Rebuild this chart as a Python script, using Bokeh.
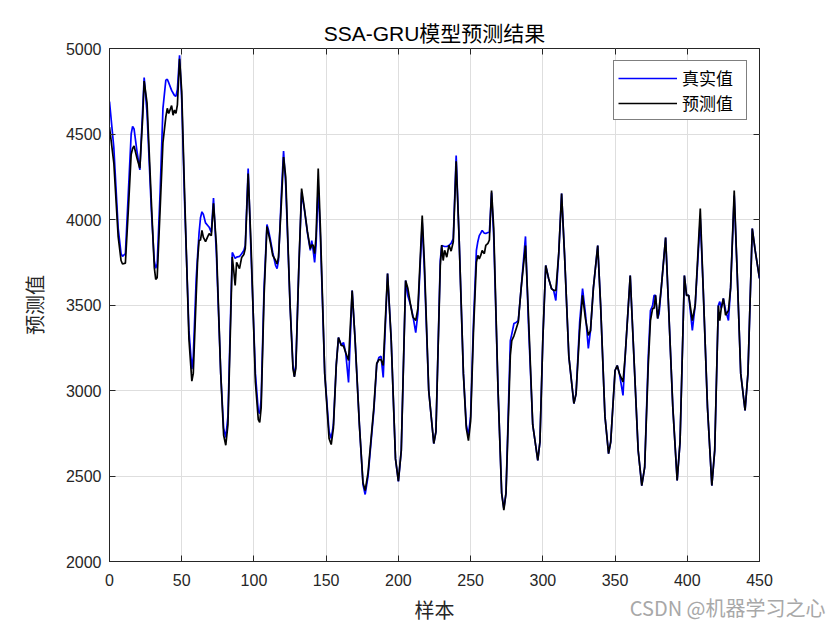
from bokeh.plotting import figure
from bokeh.models import Range1d, LinearAxis, FixedTicker, Title, Legend, LegendItem, CustomJSTickFormatter
from bokeh.embed import file_html
from bokeh.resources import INLINE

# sample index (x)
sample_idx = [
    0, 3, 6, 8, 9, 11, 13, 15, 16, 17, 19, 21, 23, 24, 26, 29, 31, 32, 33, 35,
    37, 39, 40, 41, 43, 44, 45, 46, 47, 48.5, 50, 52, 55, 57, 58, 60, 61, 62, 63, 64,
    65, 66.5, 68, 69, 70.5, 72, 74, 77, 79, 80.5, 82, 84, 85, 86, 87, 88, 90, 91.5, 93, 94,
    96, 98, 101, 103, 104, 105, 107, 109, 110, 111.5, 113, 115, 116, 117, 119, 120.5, 122, 125, 127, 128,
    129, 131, 133, 135, 137, 139, 140, 141, 142, 143, 144.5, 146, 149, 152, 153.5, 155, 157, 158.5, 160.5, 162,
    163.5, 165.5, 168, 170, 173, 175.5, 177, 179, 183, 185, 186.5, 188, 189.5, 192.5, 195, 198, 200, 202, 205, 206.5,
    208.5, 210, 212, 213.5, 216.5, 218, 221, 224.5, 226, 229, 230, 231, 232, 233.5, 235, 236.5, 238, 240, 242, 245,
    247, 248.5, 250, 252, 254, 255, 256, 257, 258, 259.5, 260.5, 262, 263, 264.5, 266, 269, 271.5, 273, 274.5, 277.5,
    278.5, 280, 281.5, 283, 285, 288, 290, 293, 296.5, 298, 300, 302, 304, 306, 307.5, 309, 311, 313, 315, 318,
    321.5, 323, 325.5, 327.5, 329.5, 331.5, 333, 335, 338, 340, 343, 345.5, 347, 350, 351.5, 353, 355.5, 357, 360.5, 362.5,
    366, 368.5, 370.5, 373, 374.5, 376, 377, 378, 379.5, 380.5, 382, 385, 387, 390, 393, 395, 398, 399.5, 401, 403.5,
    405.5, 409, 411, 414, 417, 419, 421.5, 422.5, 423.5, 425, 426.5, 428.5, 430, 432.5, 434.5, 437, 440, 442, 445, 447,
    450,
]

# 真实值 (true values)
true_value = [
    4690, 4420, 3950, 3800, 3785, 3800, 4150, 4500, 4545, 4530, 4400, 4290, 4650, 4830, 4620, 4050, 3760, 3715, 3740, 4150,
    4650, 4815, 4820, 4800, 4755, 4740, 4725, 4720, 4760, 4960, 4700, 4100, 3350, 3125, 3200, 3650, 3790, 3920, 4010, 4045,
    4030, 3980, 3965, 3955, 3925, 4125, 3800, 3100, 2780, 2725, 2850, 3500, 3807, 3790, 3772, 3780, 3784, 3800, 3819, 3848,
    4298, 3800, 3100, 2880, 2865, 2950, 3600, 3971, 3940, 3877, 3807, 3731, 3713, 3760, 4150, 4400, 4200, 3500, 3150, 3082,
    3150, 3700, 4158, 4053, 3924, 3819, 3877, 3820, 3749, 3850, 4199, 3900, 3100, 2760, 2719, 2800, 3150, 3310, 3263, 3281,
    3222, 3047, 3585, 3300, 2800, 2450, 2392, 2500, 2883, 3150, 3193, 3200, 3076, 3684, 3300, 2600, 2468, 2650, 3643, 3556,
    3497, 3439, 3339, 3450, 3982, 3700, 3000, 2690, 2760, 3760, 3848, 3845, 3842, 3842, 3848, 3860, 3889, 4374, 3900, 3100,
    2800, 2737, 2850, 3400, 3819, 3870, 3906, 3920, 3936, 3920, 3918, 3924, 3924, 4158, 3900, 3000, 2400, 2310, 2400, 3292,
    3330, 3392, 3398, 3409, 3600, 3901, 3400, 2800, 2591, 2700, 3300, 3731, 3655, 3596, 3585, 3526, 3800, 4152, 3800, 3200,
    2924, 2980, 3400, 3596, 3450, 3246, 3350, 3600, 3848, 3500, 2850, 2631, 2700, 3117, 3146, 3100, 2971, 3200, 3672, 3300,
    2650, 2444, 2550, 3200, 3468, 3497, 3556, 3556, 3421, 3450, 3600, 3895, 3500, 2900, 2474, 2700, 3672, 3556, 3556, 3351,
    3500, 4006, 3600, 2900, 2444, 2650, 3497, 3520, 3480, 3538, 3470, 3409, 3600, 4140, 3700, 3100, 2883, 3100, 3947, 3819,
    3655,
]

# 预测值 (predicted values)
predicted_value = [
    4540, 4330, 3900, 3760, 3740, 3745, 4050, 4380, 4415, 4430, 4360, 4300, 4600, 4810, 4680, 4100, 3720, 3650, 3660, 4050,
    4450, 4600, 4650, 4620, 4666, 4610, 4640, 4620, 4670, 4940, 4750, 4150, 3300, 3055, 3100, 3550, 3760, 3877, 3880, 3936,
    3895, 3871, 3900, 3918, 3906, 4095, 3850, 3100, 2740, 2680, 2800, 3450, 3780, 3702, 3614, 3749, 3713, 3778, 3795, 3830,
    4269, 3850, 3050, 2830, 2813, 2900, 3550, 3959, 3920, 3860, 3790, 3760, 3740, 3780, 4100, 4365, 4250, 3500, 3130, 3080,
    3130, 3700, 4181, 4060, 3930, 3830, 3850, 3850, 3800, 3900, 4298, 3950, 3100, 2720, 2684, 2780, 3150, 3310, 3263, 3260,
    3222, 3175, 3585, 3300, 2800, 2460, 2415, 2520, 2900, 3158, 3180, 3180, 3146, 3684, 3300, 2600, 2470, 2650, 3643, 3600,
    3497, 3430, 3409, 3480, 4023, 3750, 3000, 2690, 2760, 3730, 3850, 3760, 3820, 3780, 3850, 3815, 3870, 4340, 3900, 3100,
    2780, 2707, 2820, 3350, 3749, 3790, 3770, 3790, 3819, 3800, 3848, 3860, 3880, 4170, 3950, 3000, 2400, 2300, 2400, 3205,
    3292, 3320, 3360, 3400, 3600, 3848, 3450, 2800, 2591, 2700, 3300, 3731, 3655, 3596, 3585, 3585, 3800, 4152, 3800, 3200,
    2924, 2980, 3350, 3556, 3420, 3322, 3350, 3600, 3848, 3500, 2850, 2631, 2700, 3117, 3146, 3099, 3050, 3200, 3672, 3300,
    2650, 2444, 2550, 3150, 3409, 3480, 3480, 3556, 3421, 3480, 3600, 3895, 3500, 2900, 2474, 2700, 3672, 3556, 3556, 3409,
    3500, 4064, 3600, 2900, 2444, 2650, 3497, 3409, 3480, 3538, 3440, 3468, 3600, 4170, 3700, 3100, 2883, 3100, 3947, 3819,
    3655,
]

x_ticks = [0, 50, 100, 150, 200, 250, 300, 350, 400, 450]
y_ticks = [2000, 2500, 3000, 3500, 4000, 4500, 5000]

title_text = "SSA-GRU模型预测结果"
x_label = "样本"
y_label = "预测值"
series_names = ["真实值", "预测值"]
watermark = "CSDN @机器学习之心"

AX = "#262626"
NUM_FONT = "Liberation Sans"
CJK_FONT = "Liberation Sans, Noto Sans CJK SC"

p = figure(width=840, height=630,
           x_range=Range1d(0, 450), y_range=Range1d(2000, 5000),
           output_backend="svg", toolbar_location=None,
           min_border_left=109, min_border_right=81,
           min_border_top=48, min_border_bottom=69)

p.title.text = title_text
p.title.align = "center"
p.title.text_font = CJK_FONT
p.title.text_font_size = "21px"
p.title.text_font_style = "normal"
p.title.text_color = "#000000"
p.title.standoff = 8

p.outline_line_color = AX
p.outline_line_width = 1
p.background_fill_color = "white"
p.border_fill_color = "white"

for ax in (p.xaxis[0], p.yaxis[0]):
    ax.axis_line_color = AX
    ax.major_tick_in = 6
    ax.major_tick_out = 0
    ax.major_tick_line_color = AX
    ax.minor_tick_line_color = None
    ax.major_label_text_font = NUM_FONT
    ax.major_label_text_font_size = "16px"
    ax.major_label_text_color = AX
    ax.axis_label_text_font = CJK_FONT
    ax.axis_label_text_font_size = "20px"
    ax.axis_label_text_font_style = "normal"
    ax.axis_label_text_color = AX

p.xaxis[0].ticker = FixedTicker(ticks=x_ticks)
p.yaxis[0].ticker = FixedTicker(ticks=y_ticks)
p.xaxis[0].axis_label = x_label
p.yaxis[0].axis_label = y_label
p.xaxis[0].major_label_standoff = 12
p.xaxis[0].axis_label_standoff = 11
p.yaxis[0].major_label_standoff = 8
p.yaxis[0].axis_label_standoff = 16

blank = CustomJSTickFormatter(code="return ''")
top_ax = LinearAxis(ticker=FixedTicker(ticks=x_ticks), formatter=blank,
                    axis_line_color=None, major_tick_in=6, major_tick_out=0,
                    major_tick_line_color=AX, minor_tick_line_color=None,
                    major_label_standoff=0)
right_ax = LinearAxis(ticker=FixedTicker(ticks=y_ticks), formatter=blank,
                      axis_line_color=None, major_tick_in=6, major_tick_out=0,
                      major_tick_line_color=AX, minor_tick_line_color=None,
                      major_label_standoff=0)
p.add_layout(top_ax, "above")
p.add_layout(right_ax, "right")

p.grid.grid_line_color = "#dedede"
p.grid.grid_line_width = 1
p.xgrid.ticker = FixedTicker(ticks=x_ticks)
p.ygrid.ticker = FixedTicker(ticks=y_ticks)

r_true = p.line(sample_idx, true_value, line_color="#0000ff", line_width=1.7)
r_pred = p.line(sample_idx, predicted_value, line_color="#000000", line_width=1.7)

legend = Legend(items=[LegendItem(label=series_names[0], renderers=[r_true]),
                       LegendItem(label=series_names[1], renderers=[r_pred])],
                location="top_right", margin=12, padding=4, spacing=0,
                glyph_width=59, glyph_height=20, label_height=20,
                label_width=60, label_standoff=5,
                label_text_font="Noto Sans CJK SC", label_text_font_size="17px",
                label_text_color="#000000",
                border_line_color="#000000", border_line_width=1,
                background_fill_color="white", background_fill_alpha=1)
p.add_layout(legend)

# watermark: a side-panel title pulled up into the x-label row, right of the frame
wm = Title(text=watermark, align="right", vertical_align="top",
           offset=-66, standoff=-64,
           text_font="Noto Sans CJK SC", text_font_size="20px",
           text_font_style="normal", text_color="#a8a8a8")
p.add_layout(wm, "below")

open("out.html", "w").write(file_html(p, INLINE))
